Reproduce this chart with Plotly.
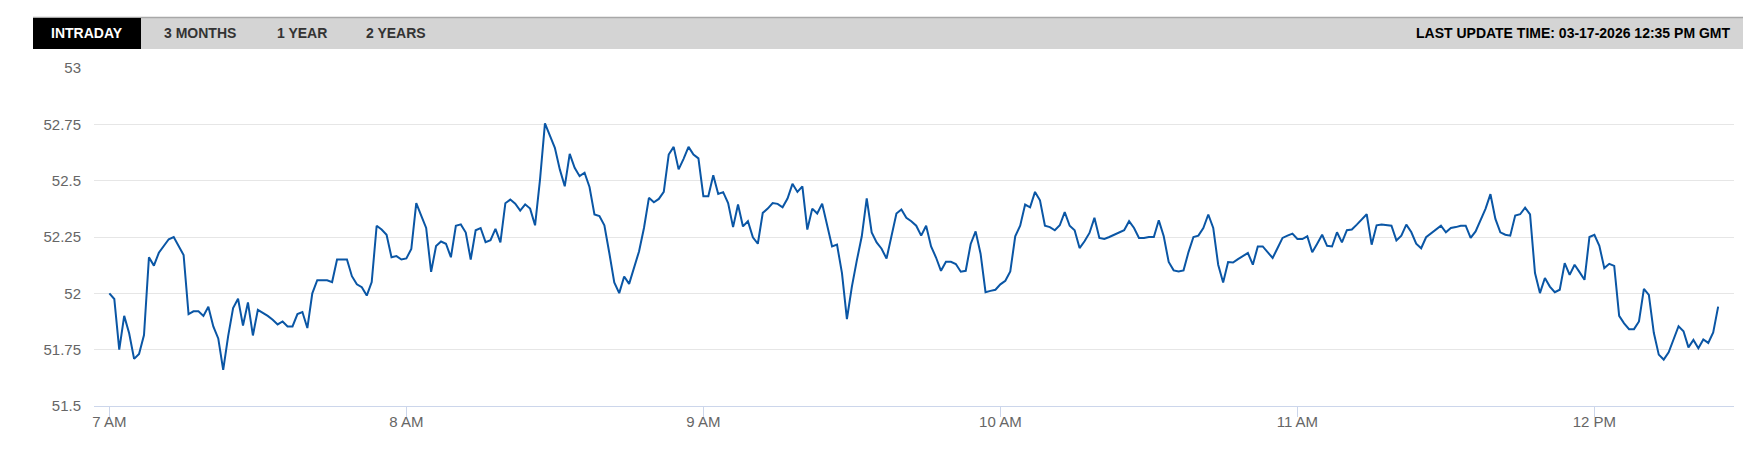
import pandas as pd
import plotly.graph_objects as go

# Intraday price, one reading per minute from 07:00
START = "2026-03-17 07:00"
PRICES = [
    # 7 AM
    52.00, 51.975, 51.75, 51.90, 51.823, 51.709, 51.731, 51.815, 52.16, 52.123,
    52.18, 52.21, 52.24, 52.25, 52.21, 52.17, 51.908, 51.92, 51.92, 51.90,
    51.94, 51.853, 51.80, 51.66, 51.81, 51.935, 51.976, 51.857, 51.96, 51.813,
    51.927, 51.915, 51.90, 51.883, 51.862, 51.875, 51.853, 51.853, 51.908, 51.917,
    51.846, 52.00, 52.058, 52.058, 52.058, 52.05, 52.15, 52.15, 52.15, 52.076,
    52.04, 52.027, 51.99, 52.05, 52.30, 52.283, 52.26, 52.16, 52.165, 52.15,
    # 8 AM
    52.155, 52.197, 52.40, 52.345, 52.29, 52.095, 52.21, 52.23, 52.22, 52.16,
    52.30, 52.306, 52.27, 52.15, 52.28, 52.29, 52.227, 52.236, 52.286, 52.226,
    52.40, 52.416, 52.398, 52.367, 52.395, 52.376, 52.302, 52.505, 52.754, 52.70,
    52.646, 52.55, 52.475, 52.619, 52.557, 52.52, 52.535, 52.472, 52.35, 52.343,
    52.302, 52.179, 52.048, 52.001, 52.075, 52.042, 52.12, 52.186, 52.29, 52.424,
    52.404, 52.419, 52.45, 52.616, 52.65, 52.55, 52.597, 52.65, 52.616, 52.599,
    # 9 AM
    52.431, 52.431, 52.524, 52.441, 52.449, 52.401, 52.294, 52.394, 52.297, 52.32,
    52.249, 52.22, 52.357, 52.376, 52.401, 52.397, 52.382, 52.421, 52.486, 52.45,
    52.475, 52.283, 52.376, 52.354, 52.398, 52.305, 52.208, 52.216, 52.09, 51.886,
    52.03, 52.146, 52.253, 52.421, 52.27, 52.226, 52.198, 52.154, 52.253, 52.354,
    52.372, 52.335, 52.32, 52.30, 52.256, 52.30, 52.208, 52.159, 52.10, 52.14,
    52.14, 52.13, 52.096, 52.10, 52.219, 52.275, 52.176, 52.005, 52.011, 52.016,
    # 10 AM
    52.04, 52.056, 52.097, 52.253, 52.30, 52.394, 52.382, 52.45, 52.413, 52.30,
    52.294, 52.28, 52.302, 52.36, 52.30, 52.28, 52.201, 52.231, 52.268, 52.335,
    52.246, 52.241, 52.25, 52.26, 52.27, 52.28, 52.32, 52.29, 52.246, 52.246,
    52.25, 52.25, 52.324, 52.253, 52.139, 52.102, 52.097, 52.102, 52.183, 52.25,
    52.256, 52.29, 52.35, 52.29, 52.127, 52.048, 52.139, 52.137, 52.152, 52.167,
    52.179, 52.127, 52.208, 52.208, 52.182, 52.157, 52.201, 52.246, 52.256, 52.265,
    # 11 AM
    52.241, 52.241, 52.253, 52.182, 52.22, 52.26, 52.211, 52.208, 52.271, 52.226,
    52.28, 52.283, 52.305, 52.33, 52.351, 52.216, 52.302, 52.305, 52.303, 52.30,
    52.235, 52.256, 52.305, 52.272, 52.22, 52.20, 52.249, 52.265, 52.283, 52.30,
    52.271, 52.29, 52.294, 52.30, 52.30, 52.246, 52.275, 52.324, 52.375, 52.44,
    52.33, 52.271, 52.26, 52.256, 52.345, 52.351, 52.38, 52.35, 52.09, 52.001,
    52.068, 52.03, 52.005, 52.016, 52.134, 52.082, 52.127, 52.094, 52.06, 52.25,
    # 12 PM
    52.26, 52.211, 52.112, 52.131, 52.122, 51.90, 51.867, 51.841, 51.841, 51.875,
    52.02, 51.993, 51.825, 51.728, 51.706, 51.738, 51.80, 51.854, 51.832, 51.76,
    51.793, 51.756, 51.795, 51.78, 51.827, 51.941,
]

Y_TICKS = [51.5, 51.75, 52, 52.25, 52.5, 52.75, 53]
Y_TICKTEXT = ["51.5", "51.75", "52", "52.25", "52.5", "52.75", "53"]
X_RANGE = ["2026-03-17 06:56:54", "2026-03-17 12:28:12"]
TABS = ["INTRADAY", "3 MONTHS", "1 YEAR", "2 YEARS"]
UPDATED = "LAST UPDATE TIME: 03-17-2026 12:35 PM GMT"

# the page body has an 8px margin, so the figure sits at (8, 8)
OFF = 8
W, H = 1751 - OFF, 457 - OFF
L, T = 94 - OFF, 68 - OFF
R = W - (1734 - OFF)
B = H - (406 - OFF)
PW, PH = W - L - R, H - T - B


def px(x):
    # page pixel -> paper x
    return (x - OFF - L) / PW


def py(y):
    # page pixel -> paper y
    return (H - B - (y - OFF)) / PH


times = pd.date_range(START, periods=len(PRICES), freq="min")

fig = go.Figure()
fig.add_trace(go.Scatter(
    x=times, y=PRICES,
    mode="lines",
    line=dict(color="#0a56a5", width=2),
    hoverinfo="x+y",
    showlegend=False,
))

# tab strip across the top
shapes = [
    dict(type="rect", xref="paper", yref="paper",
         x0=px(33), x1=px(1744), y0=py(49), y1=py(17),
         fillcolor="#d4d4d4", line=dict(width=0), layer="below"),
    dict(type="line", xref="paper", yref="paper",
         x0=px(33), x1=px(1744), y0=py(17.5), y1=py(17.5),
         line=dict(color="#a8a8a8", width=1.5)),
    dict(type="rect", xref="paper", yref="paper",
         x0=px(33), x1=px(141), y0=py(49), y1=py(18),
         fillcolor="#000000", line=dict(width=0)),
]

tab_x = [87, 199.5, 302, 395.5]
annotations = []
for i, (label, cx) in enumerate(zip(TABS, tab_x)):
    annotations.append(dict(
        x=px(cx), y=py(33), xref="paper", yref="paper",
        text=label, showarrow=False, xanchor="center", yanchor="middle",
        font=dict(family="Liberation Sans, Arial", size=14,
                  color="#ffffff" if i == 0 else "#333333",
                  weight="bold"),
    ))
annotations.append(dict(
    x=px(1732), y=py(33), xref="paper", yref="paper",
    text=UPDATED, showarrow=False, xanchor="right", yanchor="middle",
    font=dict(family="Liberation Sans, Arial", size=14, color="#000000", weight="bold"),
))

fig.update_layout(
    width=W, height=H,
    margin=dict(l=L, r=R, t=T, b=B, pad=0),
    paper_bgcolor="#ffffff",
    plot_bgcolor="#ffffff",
    font=dict(family="Liberation Sans, Arial", size=15, color="#666666"),
    shapes=shapes,
    annotations=annotations,
    xaxis=dict(
        range=X_RANGE,
        tickformat="%-I %p",
        dtick=3600000,
        tick0="2026-03-17 07:00",
        showgrid=False,
        showline=True, linecolor="#ccd6eb", linewidth=1,
        ticks="outside", ticklen=10, tickcolor="#ccd6eb", tickwidth=1,
        ticklabelstandoff=-8,
        tickfont=dict(size=15, color="#666666"),
        zeroline=False,
        fixedrange=True,
    ),
    yaxis=dict(
        range=[51.5, 53],
        tickvals=Y_TICKS, ticktext=Y_TICKTEXT,
        showgrid=True, gridcolor="#e6e6e6", gridwidth=1,
        zeroline=False, showline=False,
        ticks="", ticklabelstandoff=12,
        tickfont=dict(size=15, color="#666666"),
        fixedrange=True,
    ),
)

fig.write_html("out.html")
